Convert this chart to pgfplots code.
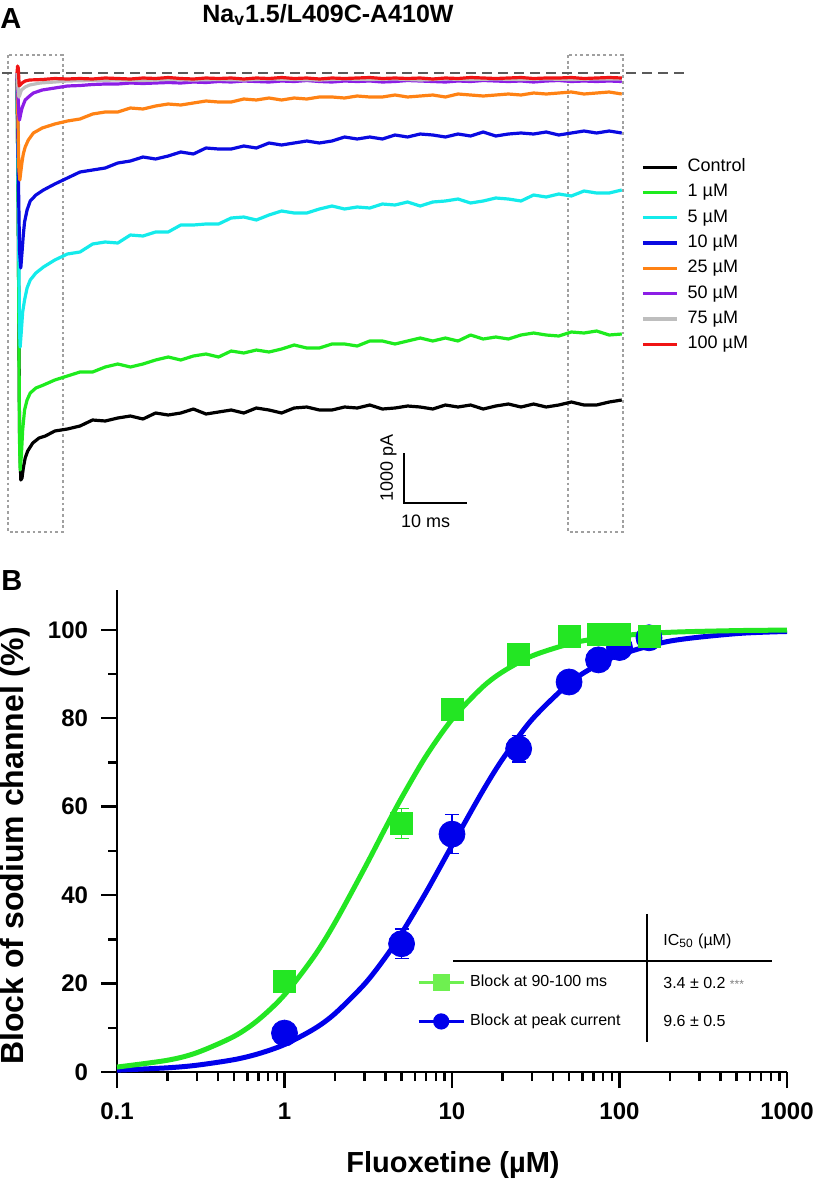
\documentclass[border=0pt]{standalone}
\usepackage{fontspec}
\setmainfont{Liberation Sans}
\usepackage{pgfplots}
\pgfplotsset{compat=1.18}
\definecolor{tBlack}{RGB}{0,0,0}
\definecolor{tGreen}{RGB}{30,235,30}
\definecolor{tCyan}{RGB}{20,235,235}
\definecolor{tBlue}{RGB}{10,10,225}
\definecolor{tOrange}{RGB}{255,130,20}
\definecolor{tPurple}{RGB}{140,30,230}
\definecolor{tGray}{RGB}{190,190,190}
\definecolor{tRed}{RGB}{240,20,20}
\definecolor{bGreen}{RGB}{35,230,35}
\definecolor{bGreenL}{RGB}{110,240,80}
\definecolor{bBlue}{RGB}{0,0,235}
\definecolor{boxGray}{RGB}{160,160,160}
\definecolor{baseGray}{RGB}{90,90,90}
\begin{document}
\begin{tikzpicture}
\path[use as bounding box] (0,0) rectangle (408pt,-592pt);
\node[font=\fontsize{14.5}{16}\selectfont\bfseries, anchor=base west, inner sep=0pt] at (0pt,-14pt) {A};
\node[font=\fontsize{12.5}{14}\selectfont\bfseries, anchor=base, inner sep=0pt] at (164pt,-11pt) {Na\textsubscript{v}1.5/L409C-A410W};
\node[font=\fontsize{14.5}{16}\selectfont\bfseries, anchor=base west, inner sep=0pt] at (0.5pt,-295pt) {B};

% ---------------- Panel A ----------------
\begin{axis}[
  at={(0pt,-280pt)}, anchor=south west, scale only axis,
  width=408pt, height=280pt,
  xmin=-2.698, xmax=126.83, ymin=-9740, ymax=1460,
  hide axis, clip=false,
  every axis plot/.append style={line width=1.6pt, line join=round},
  legend cell align=left,
  legend style={at={(axis description cs:0.7855,0.7175)}, anchor=north west,
    draw=none, fill=none, inner sep=0pt, row sep=4.15pt,
    font=\fontsize{9}{10}\selectfont,
    nodes={inner sep=0pt, text height=6.5pt, text depth=2pt},
    /tikz/every odd column/.append style={column sep=4.5pt}},
]
\draw[boxGray, line width=1.3pt, dash pattern=on 1.4pt off 1.45pt] (axis cs:-1.43,360) rectangle (axis cs:7.30,-9180);
\draw[boxGray, line width=1.3pt, dash pattern=on 1.4pt off 1.45pt] (axis cs:87.46,360) rectangle (axis cs:96.19,-9180);
\draw[baseGray, line width=1.2pt, dash pattern=on 5pt off 3pt] (axis cs:-2.38,0) -- (axis cs:106.0,0);

\addplot[tBlack] coordinates {(0,0) (0.2,-2940) (0.4,-7140) (0.6,-8140) (0.8,-8100) (1.0,-7900) (1.3,-7700) (1.7,-7560) (2.5,-7400) (3.5,-7300) (4.5,-7260) (6,-7160) (8,-7120)
(10,-7060) (12,-6940) (14,-6960) (16,-6900) (18,-6860) (20,-6920) (22,-6800) (24,-6840) (26,-6800) (28,-6720) (30,-6820) (32,-6780) (34,-6740) (36,-6800) (38,-6700) (40,-6740) (42,-6800) (44,-6700) (46,-6680) (48,-6740) (50,-6740) (52,-6680) (54,-6700) (56,-6640) (58,-6720) (60,-6700) (62,-6660) (64,-6680) (66,-6720) (68,-6640) (70,-6680) (72,-6640) (74,-6720) (76,-6660) (78,-6620) (80,-6680) (82,-6620) (84,-6680) (86,-6640) (88,-6580) (90,-6640) (92,-6640) (94,-6580) (96,-6540)};
\addlegendentry{Control}
\addplot[tGreen] coordinates {(0,0) (0.2,-2940) (0.4,-7340) (0.5,-7940) (0.7,-7640) (0.9,-7140) (1.2,-6740) (1.6,-6540) (2.1,-6400) (3,-6300) (4.2,-6240) (6,-6140) (8,-6060)
(10,-5980) (12,-5980) (14,-5880) (16,-5820) (18,-5880) (20,-5820) (22,-5740) (24,-5680) (26,-5740) (28,-5660) (30,-5620) (32,-5680) (34,-5560) (36,-5600) (38,-5540) (40,-5580) (42,-5520) (44,-5440) (46,-5500) (48,-5500) (50,-5420) (52,-5420) (54,-5460) (56,-5360) (58,-5360) (60,-5420) (62,-5360) (64,-5300) (66,-5360) (68,-5300) (70,-5360) (72,-5240) (74,-5320) (76,-5280) (78,-5320) (80,-5240) (82,-5200) (84,-5240) (86,-5260) (88,-5180) (90,-5200) (92,-5160) (94,-5240) (96,-5220)};
\addlegendentry{1 µM}
\addplot[tCyan] coordinates {(0,0) (0.2,-2540) (0.4,-5140) (0.5,-5480) (0.7,-5140) (0.9,-4780) (1.2,-4540) (1.6,-4300) (2.1,-4140) (3,-4000) (4.2,-3880) (6,-3740) (8,-3620)
(10,-3580) (12,-3420) (14,-3380) (16,-3400) (18,-3240) (20,-3260) (22,-3180) (24,-3180) (26,-3040) (28,-3040) (30,-3020) (32,-3020) (34,-2900) (36,-2880) (38,-2940) (40,-2840) (42,-2760) (44,-2800) (46,-2800) (48,-2720) (50,-2660) (52,-2720) (54,-2680) (56,-2700) (58,-2620) (60,-2640) (62,-2580) (64,-2660) (66,-2580) (68,-2560) (70,-2520) (72,-2600) (74,-2560) (76,-2500) (78,-2520) (80,-2560) (82,-2440) (84,-2480) (86,-2420) (88,-2460) (90,-2360) (92,-2400) (94,-2400) (96,-2340)};
\addlegendentry{5 µM}
\addplot[tBlue] coordinates {(0,0) (0.2,-1940) (0.4,-3540) (0.6,-3900) (0.8,-3580) (1.0,-3240) (1.2,-2980) (1.6,-2740) (2.1,-2560) (3,-2440) (4.2,-2340) (6,-2220) (8,-2100)
(10,-1980) (12,-1940) (14,-1900) (16,-1800) (18,-1760) (20,-1680) (22,-1720) (24,-1660) (26,-1580) (28,-1620) (30,-1500) (32,-1520) (34,-1520) (36,-1460) (38,-1500) (40,-1400) (42,-1440) (44,-1400) (46,-1360) (48,-1400) (50,-1360) (52,-1280) (54,-1320) (56,-1280) (58,-1320) (60,-1240) (62,-1280) (64,-1220) (66,-1240) (68,-1280) (70,-1220) (72,-1260) (74,-1180) (76,-1260) (78,-1220) (80,-1200) (82,-1220) (84,-1180) (86,-1240) (88,-1200) (90,-1160) (92,-1200) (94,-1160) (96,-1200)};
\addlegendentry{10 µM}
\addplot[tOrange] coordinates {(0,0) (0.15,-940) (0.3,-1940) (0.45,-2140) (0.6,-1980) (0.8,-1780) (1.0,-1620) (1.3,-1480) (1.8,-1340) (2.6,-1200) (4,-1100) (6,-1020) (8,-960)
(10,-920) (12,-820) (14,-780) (16,-780) (18,-700) (20,-720) (22,-660) (24,-620) (26,-640) (28,-600) (30,-560) (32,-580) (34,-580) (36,-520) (38,-540) (40,-500) (42,-540) (44,-500) (46,-520) (48,-480) (50,-480) (52,-500) (54,-460) (56,-480) (58,-480) (60,-440) (62,-480) (64,-460) (66,-440) (68,-480) (70,-420) (72,-440) (74,-460) (76,-440) (78,-420) (80,-440) (82,-400) (84,-420) (86,-400) (88,-380) (90,-420) (92,-400) (94,-380) (96,-420)};
\addlegendentry{25 µM}
\addplot[tPurple] coordinates {(0,0) (0.15,-440) (0.3,-840) (0.4,-940) (0.55,-840) (0.8,-700) (1.3,-540) (2,-460) (2.6,-400) (4,-340) (6,-300) (8,-260)
(10,-250) (12,-230) (14,-220) (16,-220) (18,-200) (20,-210) (22,-200) (24,-190) (26,-200) (28,-180) (30,-190) (32,-170) (34,-180) (36,-160) (38,-170) (40,-180) (42,-160) (44,-170) (46,-150) (48,-170) (50,-180) (52,-160) (54,-170) (56,-160) (58,-180) (60,-170) (62,-150) (64,-160) (66,-170) (68,-180) (70,-160) (72,-170) (74,-150) (76,-160) (78,-170) (80,-160) (82,-180) (84,-160) (86,-150) (88,-170) (90,-160) (92,-170) (94,-160) (96,-170)};
\addlegendentry{50 µM}
\addplot[tGray] coordinates {(0,0) (0.15,-300) (0.3,-480) (0.45,-440) (0.7,-340) (1.3,-280) (2,-240) (3.7,-200) (6,-180) (8,-160) (12,-150) (16,-140) (20,-150) (24,-130) (28,-140) (32,-130) (36,-140) (40,-120) (44,-130) (48,-140) (52,-120) (56,-130) (60,-120) (64,-140) (68,-120) (72,-130) (76,-120) (80,-130) (84,-120) (88,-130) (92,-120) (96,-120)};
\addlegendentry{75 µM}
\addplot[tRed] coordinates {(0,0) (0.1,140) (0.2,100) (0.35,-260) (0.5,-240) (0.8,-200) (1.3,-160) (2,-140) (4,-130) (6,-110) (8,-120)
(10,-110) (12,-120) (14,-100) (16,-110) (18,-120) (20,-100) (22,-110) (24,-90) (26,-110) (28,-120) (30,-100) (32,-110) (34,-100) (36,-120) (38,-100) (40,-110) (42,-90) (44,-110) (46,-100) (48,-120) (50,-100) (52,-110) (54,-100) (56,-90) (58,-110) (60,-100) (62,-110) (64,-100) (66,-120) (68,-100) (70,-110) (72,-90) (74,-100) (76,-110) (78,-100) (80,-90) (82,-110) (84,-100) (86,-100) (88,-90) (90,-110) (92,-100) (94,-90) (96,-100)};
\addlegendentry{100 µM}

% scale bar
\draw[black, line width=1.35pt] (axis cs:61.43,-7600) -- (axis cs:61.43,-8600) -- (axis cs:71.43,-8600);
\node[anchor=base, inner sep=0pt, font=\fontsize{9}{10}\selectfont] at (axis cs:64.87,-9080) {10 ms};
\node[anchor=base west, rotate=90, inner sep=0pt, font=\fontsize{9}{10}\selectfont] at (axis cs:59.68,-8580) {1000 pA};
\end{axis}

% ---------------- Panel B ----------------
\begin{axis}[
  at={(58.5pt,-536pt)}, anchor=south west, scale only axis,
  width=335pt, height=241pt,
  xmode=log, xmin=0.1, xmax=1000, ymin=0, ymax=109,
  axis x line*=bottom, axis y line*=left,
  axis line style={line width=1.4pt},
  tick style={line width=1.2pt, black},
  tick align=outside, major tick length=8pt, minor tick length=4.5pt,
  xtick={0.1,1,10,100,1000}, xticklabels={0.1,1,10,100,1000},
  minor xtick={0.2,0.3,0.4,0.5,0.6,0.7,0.8,0.9,2,3,4,5,6,7,8,9,20,30,40,50,60,70,80,90,200,300,400,500,600,700,800,900},
  ytick={0,20,40,60,80,100}, yticklabels={0,20,40,60,80,100},
  minor ytick={10,30,50,70,90},
  ticklabel style={font=\fontsize{12}{14}\selectfont\bfseries},
  xticklabel style={yshift=-4pt},
  yticklabel style={xshift=-3pt},
  xlabel={Fluoxetine (µM)}, ylabel={Block of sodium channel (\%)},
  xlabel style={font=\fontsize{14.5}{16}\selectfont\bfseries, at={(axis description cs:0.5015,-0.193)}, anchor=center},
  ylabel style={font=\fontsize{16}{18}\selectfont\bfseries, at={(axis description cs:-0.152,0.469)}, anchor=center},
  clip=false,
  legend cell align=left,
  legend image code/.code={\draw[mark repeat=2,mark phase=2,#1] plot coordinates {(0pt,0pt) (11.25pt,0pt) (22.5pt,0pt)};},
  legend style={at={(axis description cs:0.4475,0.2033)}, anchor=north west,
    draw=none, fill=none, inner sep=0pt, row sep=11.5pt,
    font=\fontsize{8}{9}\selectfont,
    nodes={inner sep=0pt, text height=6pt, text depth=2pt},
    /tikz/every odd column/.append style={column sep=2.5pt}},
]
\addplot[bBlue, line width=2.5pt, smooth, forget plot] coordinates {(0.1,0.42) (0.2,0.95) (0.3,1.54) (0.5,2.80) (0.7,4.14) (1,6.21) (1.5,9.73) (2,13.21) (3,19.85) (4,25.91) (5,31.37) (7,40.64) (10,51.22) (15,63.07) (20,70.70) (30,79.70) (50,87.88) (70,91.56) (100,94.33) (200,97.45) (500,99.14) (1000,99.62)};
\addplot[bGreen, line width=2.5pt, smooth, forget plot] coordinates {(0.1,1.12) (0.2,2.66) (0.3,4.38) (0.5,8.06) (0.7,11.84) (1,17.45) (1.5,26.13) (2,33.76) (3,46.03) (4,55.14) (5,62.0) (7,71.44) (10,79.74) (15,86.82) (20,90.47) (30,94.08) (50,96.81) (70,97.90) (100,98.65) (200,99.44) (500,99.82) (1000,99.93)};
\addplot[bBlue, only marks, mark=*, mark size=6.5pt, forget plot,
  error bars/.cd, y dir=both, y explicit,
  error bar style={line width=0.8pt, bBlue},
  error mark options={line width=0.8pt, mark size=3.5pt, bBlue, rotate=90}]
  coordinates {(1,8.8) +- (0,1.5) (5,29) +- (0,3.3) (10,53.8) +- (0,4.4) (25,73.1) +- (0,3) (50,88.2) +- (0,1.2) (75,93.2) +- (0,1.0) (100,96) +- (0,0.8) (150,98.2) +- (0,2.2)};
\addplot[bGreen, only marks, mark=square*, mark size=5.5pt, forget plot,
  error bars/.cd, y dir=both, y explicit,
  error bar style={line width=0.8pt, bGreen},
  error mark options={line width=0.8pt, mark size=3.5pt, bGreen, rotate=90}]
  coordinates {(1,20.5) +- (0,2.2) (5,56.2) +- (0,3.4) (10,82) +- (0,1.5) (25,94.5) +- (0,1.2) (50,98.5) +- (0,0.8) (75,99) +- (0,0.5) (100,99) +- (0,0.5) (150,98.5) +- (0,0.6)};
\addlegendimage{bGreenL, line width=1.5pt, mark=square*, mark size=3.6pt, mark options={bGreenL}}
\addlegendentry{Block at 90-100 ms}
\addlegendimage{bBlue, line width=1.5pt, mark=*, mark size=3.3pt}
\addlegendentry{Block at peak current}

\draw[black, line width=0.75pt] (axis description cs:0.791,0.328) -- (axis description cs:0.791,0.0622);
\draw[black, line width=0.75pt] (axis description cs:0.5015,0.2303) -- (axis description cs:0.9776,0.2303);
\node[anchor=base west, inner sep=0pt, font=\fontsize{8}{9}\selectfont] at (axis description cs:0.8149,0.2635) {IC\textsubscript{50} (µM)};
\node[anchor=base west, inner sep=0pt, font=\fontsize{8}{9}\selectfont] at (axis description cs:0.8149,0.1743) {3.4 ± 0.2 {\color{gray}\fontsize{6}{6}\selectfont ***}};
\node[anchor=base west, inner sep=0pt, font=\fontsize{8}{9}\selectfont] at (axis description cs:0.8149,0.0934) {9.6 ± 0.5};
\end{axis}
\end{tikzpicture}
\end{document}
